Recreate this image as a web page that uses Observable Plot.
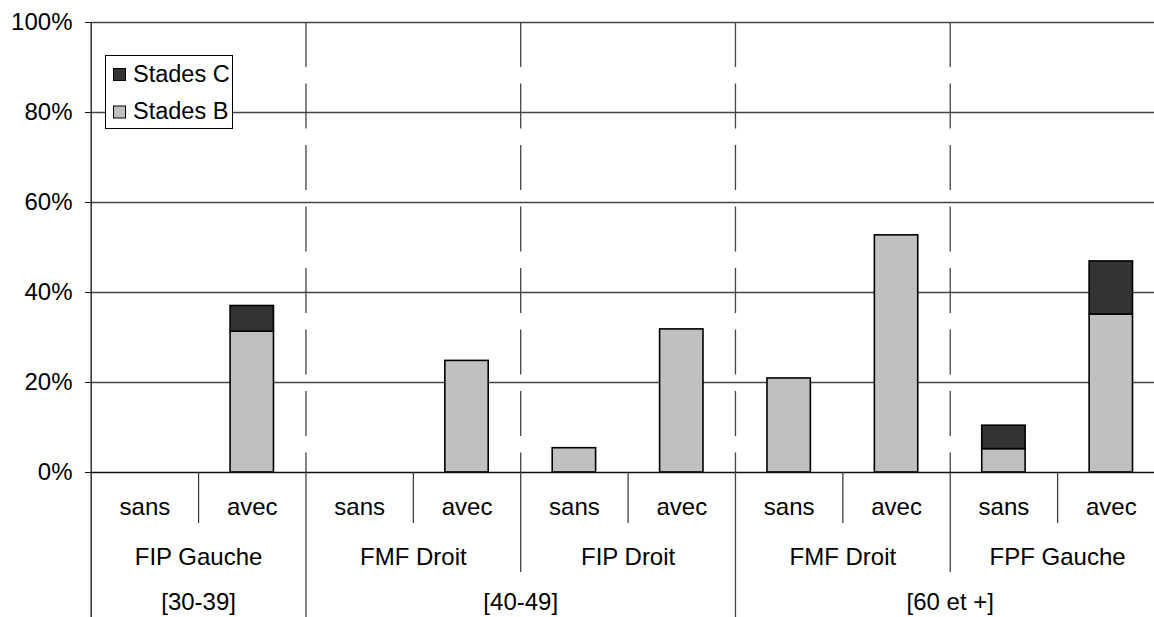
<!DOCTYPE html>
<html><head><meta charset="utf-8">
<script src="https://cdn.jsdelivr.net/npm/d3@7"></script>
<script src="https://cdn.jsdelivr.net/npm/@observablehq/plot@0.6"></script>
<style>
html,body{margin:0;padding:0;background:#fff;overflow:hidden}
#chart svg{display:block}
</style></head><body><div id="chart"></div>
<script>
// ---- data ----
const traitement = ["sans","avec","sans","avec","sans","avec","sans","avec","sans","avec"];
const localisation = ["FIP Gauche","FMF Droit","FIP Droit","FMF Droit","FPF Gauche"];
const ages = ["[30-39]","[40-49]","[60 et +]"];
const agesSpan = [1, 2, 2]; // localisations per age group
const stadesB = [0, 31.3, 0, 24.8, 5.4, 31.8, 20.9, 52.7, 5.2, 35.1];
const stadesC = [0, 5.7, 0, 0, 0, 0, 0, 0, 5.2, 11.8];
const series = ["Stades C", "Stades B"];
const seriesColors = ["#333333", "#c0c0c0"];
const yTicks = [0, 20, 40, 60, 80, 100];

// ---- derived tables ----
const bars = [];
traitement.forEach((t, i) => {
  if (stadesB[i] > 0) bars.push({i, stade: "Stades B", y1: 0, y2: stadesB[i]});
  if (stadesC[i] > 0) bars.push({i, stade: "Stades C", y1: stadesB[i], y2: stadesB[i] + stadesC[i]});
});
const n = traitement.length;
const subBounds = d3.range(1, n, 2);
const groupBounds = d3.range(2, n, 2);
const ageStarts = [];
let acc = 0;
agesSpan.forEach(s => { ageStarts.push(acc); acc += s * 2; });
const ageBounds = ageStarts.slice(1);
const midBounds = groupBounds.filter(b => !ageBounds.includes(b));
const ageCenters = ageStarts.map((s, k) => s + agesSpan[k]);

const pad = 0.298;
const font = "'Liberation Sans', Arial, sans-serif";

function legendMark(index, scales) {
  const g = d3.create("svg:g").attr("font-family", font).attr("font-size", 23.5).attr("text-anchor", "start");
  g.append("rect").attr("x", 105.5).attr("y", 55.5).attr("width", 127).attr("height", 73)
    .attr("fill", "white").attr("stroke", "black").attr("stroke-width", 1);
  series.forEach((s, k) => {
    g.append("rect").attr("x", 113.5).attr("y", 68.5 + k * 37.5).attr("width", 12).attr("height", 12)
      .attr("fill", scales.color(s)).attr("stroke", "black").attr("stroke-width", 1);
    g.append("text").attr("x", 133).attr("y", 81.5 + k * 37.5).attr("fill", "black").text(s);
  });
  return g.node();
}

const chart = Plot.plot({
  width: 1154,
  height: 617,
  marginTop: 22,
  marginBottom: 145,
  marginLeft: 91,
  marginRight: 0,
  style: {fontFamily: font, fontSize: "24px", background: "white", color: "black"},
  x: {type: "linear", domain: [0, n], range: [90.7, 1164.5], axis: null},
  y: {domain: [0, 100], axis: null},
  color: {domain: series, range: seriesColors},
  marks: [
    Plot.ruleY(yTicks.filter(d => d > 0), {stroke: "#444", strokeWidth: 1.3}),
    Plot.ruleX(groupBounds, {x: d => d, stroke: "#444", strokeWidth: 1.3, strokeDasharray: "45,16.5"}),
    Plot.rectY(bars, {x1: d => d.i + pad, x2: d => d.i + 1 - pad, y1: "y1", y2: "y2", fill: "stade", stroke: "black", strokeWidth: 1.6}),
    Plot.ruleY([0], {stroke: "#111", strokeWidth: 1.3}),
    Plot.ruleX([0], {x: d => d, stroke: "#111", strokeWidth: 1.3, insetBottom: -145}),
    Plot.ruleX(subBounds, {x: d => d, stroke: "#333", strokeWidth: 1.2, insetTop: 450, insetBottom: -51}),
    Plot.ruleX(midBounds, {x: d => d, stroke: "#333", strokeWidth: 1.2, insetTop: 450, insetBottom: -100}),
    Plot.ruleX(ageBounds, {x: d => d, stroke: "#444", strokeWidth: 1.3, insetTop: 450, insetBottom: -145}),
    Plot.axisY({ticks: yTicks, tickFormat: d => d + "%", tickSize: 6, tickPadding: 13, fontSize: 24, stroke: "#111"}),
    Plot.text(traitement, {x: (d, i) => i + 0.5, text: d => d, frameAnchor: "bottom", lineAnchor: "middle", dy: 34.5, fontSize: 24}),
    Plot.text(localisation, {x: (d, i) => 2 * i + 1, text: d => d, frameAnchor: "bottom", lineAnchor: "middle", dy: 84.5, fontSize: 24}),
    Plot.text(ages, {x: (d, i) => ageCenters[i], text: d => d, frameAnchor: "bottom", lineAnchor: "middle", dy: 130, fontSize: 24}),
    legendMark
  ]
});
document.getElementById("chart").appendChild(chart);
</script>
</body></html>
